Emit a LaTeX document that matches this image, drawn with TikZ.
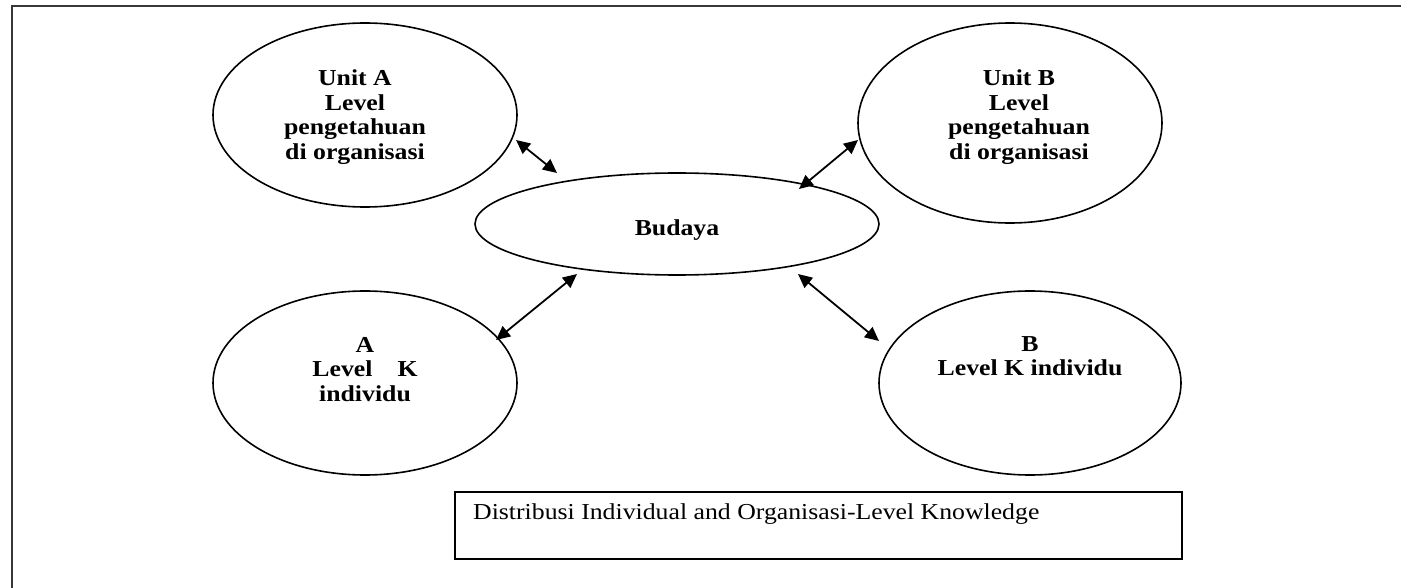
\documentclass[tikz,border=0pt]{standalone}
\usepackage{fontspec}
\setmainfont{Liberation Serif}[FakeStretch=1.13]
\usetikzlibrary{arrows.meta,shapes.geometric}

\tikzset{
  bubble/.style={draw, ellipse, line width=1.6pt, inner sep=0pt, outer sep=0pt},
  bubtext/.style={font=\bfseries\fontsize{22.8}{24.5}\selectfont, align=center, inner sep=0pt},
  captext/.style={font=\fontsize{22.8}{24.5}\selectfont, inner sep=0pt},
  capbox/.style={draw, rectangle, line width=1.5pt, inner sep=0pt,
                 minimum width=727pt, minimum height=67pt},
  link/.style={line width=1.8pt,
               {Triangle[length=14pt,width=13pt]}-{Triangle[length=14pt,width=13pt]}},
  frame/.style={line width=2.2pt, draw=black!78, line cap=rect}
}

\begin{document}
\begin{tikzpicture}[x=1pt, y=-1pt]
  \useasboundingbox (0,0) rectangle (1401,588);

  % open frame: top and left edges only
  \draw[frame] (1401,6) -- (12,6) -- (12,588);

  % the five ellipses
  \node[bubble, minimum width=304pt, minimum height=184pt] (ua) at (365,115) {};
  \node[bubble, minimum width=304pt, minimum height=200pt] (ub) at (1010,123) {};
  \node[bubble, minimum width=404pt, minimum height=102pt] (bud) at (677,224) {};
  \node[bubble, minimum width=304pt, minimum height=184pt] (la) at (365,383) {};
  \node[bubble, minimum width=302pt, minimum height=184pt] (lb) at (1030,383) {};

  % labels inside the ellipses
  \node[bubtext, anchor=north] (ua-text) at (355,69.5)
    {Unit A\\Level\\pengetahuan\\di organisasi};
  \node[bubtext, anchor=north] (ub-text) at (1019,69.5)
    {Unit B\\Level\\pengetahuan\\di organisasi};
  \node[bubtext, anchor=base] (bud-text) at (677,236) {Budaya};
  \node[bubtext, anchor=north] (la-text) at (365,337)
    {A\\Level\hspace{25pt}K\\individu};
  \node[bubtext, anchor=north] (lb-text) at (1030,336)
    {B\\Level K individu};

  % two-way links between Budaya and the four ellipses
  \draw[link] ([shift={(151,25)}]ua.center) -- ([shift={(-120,-51)}]bud.center);
  \draw[link] ([shift={(-152,17)}]ub.center) -- ([shift={(122,-35)}]bud.center);
  \draw[link] ([shift={(-100,50)}]bud.center) -- ([shift={(131,-43)}]la.center);
  \draw[link] ([shift={(121,50)}]bud.center) -- ([shift={(-151,-42)}]lb.center);

  % caption box
  \node[capbox, anchor=north west] (cap) at (454,491) {};
  \node[captext, anchor=base west] (cap-text) at (473,519)
    {Distribusi Individual and Organisasi-Level Knowledge};
\end{tikzpicture}
\end{document}
